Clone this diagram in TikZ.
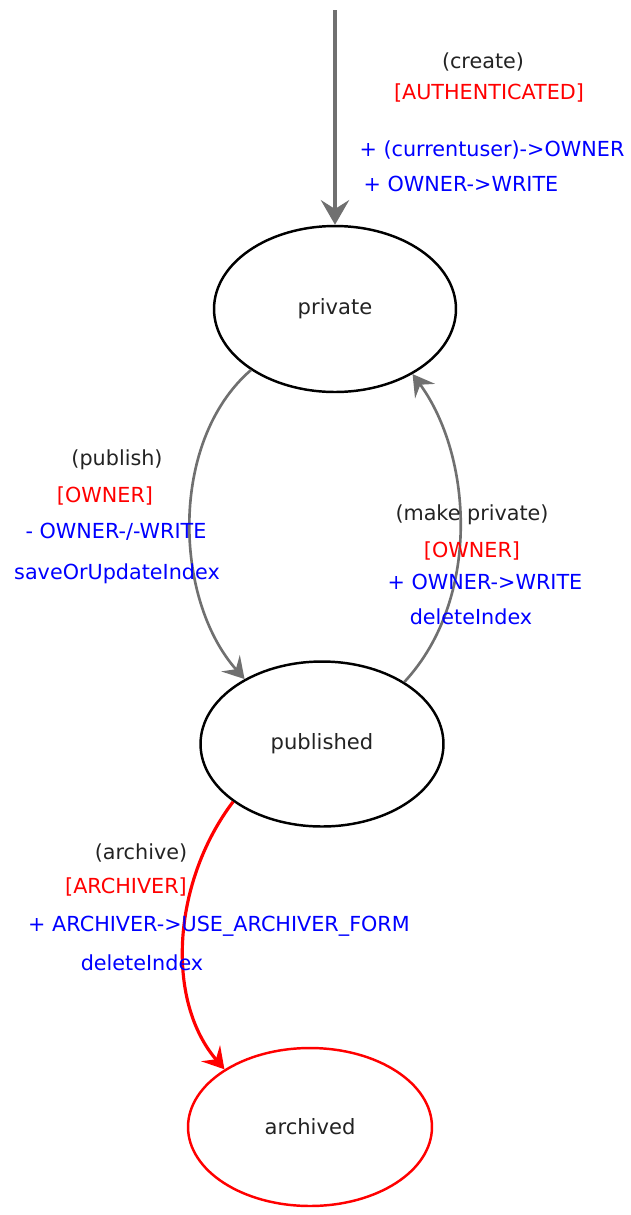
\documentclass[tikz,border=0pt]{standalone}
\usepackage{fontspec}
\setmainfont{DejaVu Sans}
\usepackage{tikz}
\usetikzlibrary{shapes.geometric,arrows.meta}

\definecolor{linegray}{RGB}{112,112,112}
\definecolor{evtblack}{RGB}{35,35,35}

\begin{document}
\begin{tikzpicture}[x=0.02cm,y=-0.02cm,
		state/.style={ellipse,draw,line width=1.4pt,inner sep=0pt,text=evtblack,font=\fontsize{12}{14}\selectfont},
		flow/.style={draw=linegray,line width=1.5pt,-{Stealth[length=12pt,width=14pt,inset=4.5pt]}},
		evt/.style={text=evtblack,inner sep=0pt,font=\fontsize{11.8}{14}\selectfont},
		guard/.style={evt,text=red},
		act/.style={evt,text=blue}]
		\useasboundingbox (0,0) rectangle (631,1215);

		% states
		\node[state,minimum width=4.84cm,minimum height=3.32cm] (private) at (335,309) {private};
		\node[state,minimum width=4.86cm,minimum height=3.30cm] (published) at (322,744) {published};
		\node[state,draw=red,minimum width=4.88cm,minimum height=3.16cm] (archived) at (310,1127) {archived};

		% transitions
		\coordinate (start) at (335,10);
		\draw[flow,line width=2.2pt,-{Stealth[length=14pt,width=16pt,inset=5pt]}] (start) -- (private.north);
		\draw[flow] (private.216) .. controls +(-82,71) and +(-71,-80) .. (published.140);
		\draw[flow] (published.37) .. controls +(77,-83) and +(60,82) .. (private.320);
		\draw[flow,draw=red,line width=1.8pt] (published.213) .. controls +(-60,79) and +(-60,-70) .. (archived.146);

		% labels
		\node[evt]   (createEvt)   at (483,62)  {(create)};
		\node[guard] (createGuard) at (489,93)  {[AUTHENTICATED]};
		\node[act]   (createAct)   at (492,150) {+ (currentuser)->OWNER};
		\node[act]   (createAct2)  at (461,184) {+ OWNER->WRITE};

		\node[evt]   (publishEvt)   at (117,460) {(publish)};
		\node[guard] (publishGuard) at (105,496) {[OWNER]};
		\node[act]   (publishAct)   at (116,532) {- OWNER-/-WRITE};
		\node[act]   (publishAct2)  at (117,574) {saveOrUpdateIndex};

		\node[evt]   (makeprivEvt)   at (472,515) {(make private)};
		\node[guard] (makeprivGuard) at (472,551) {[OWNER]};
		\node[act]   (makeprivAct)   at (485,582) {+ OWNER->WRITE};
		\node[act]   (makeprivAct2)  at (471,617) {deleteIndex};

		\node[evt]   (archiveEvt)   at (141,853) {(archive)};
		\node[guard] (archiveGuard) at (126,887) {[ARCHIVER]};
		\node[act]   (archiveAct)   at (219,926) {+ ARCHIVER->USE\_ARCHIVER\_FORM};
		\node[act]   (archiveAct2)  at (142,963) {deleteIndex};
\end{tikzpicture}
\end{document}
